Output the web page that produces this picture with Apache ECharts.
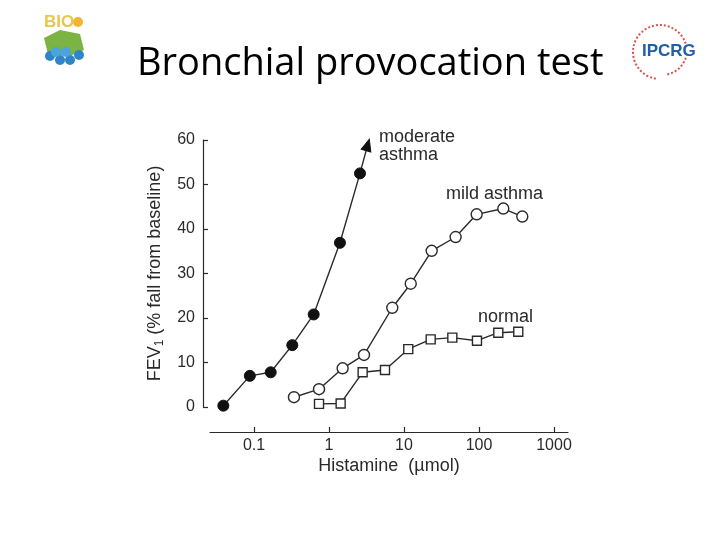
<!DOCTYPE html>
<html>
<head>
<meta charset="utf-8">
<style>html,body{margin:0;padding:0;background:#fff;}#c{width:720px;height:540px;}</style>
<script src="https://cdn.jsdelivr.net/npm/echarts@6/dist/echarts.min.js"></script>
</head>
<body>
<div id="c"></div>
<script>
// Histamine dose (µmol) and FEV1 % fall from baseline
const moderateX = [0.039, 0.088, 0.167, 0.324, 0.625, 1.40, 2.59, 3.28];
const moderateY = [0.3, 7.0, 7.8, 13.9, 20.8, 36.9, 52.5, 58.9];
const mildX = [0.341, 0.736, 1.52, 2.93, 6.98, 12.3, 23.4, 48.8, 93.1, 211, 378];
const mildY = [2.2, 4.0, 8.7, 11.7, 22.3, 27.7, 35.1, 38.2, 43.3, 44.6, 42.8];
const normalX = [0.736, 1.43, 2.81, 5.58, 11.4, 22.7, 44.1, 94.0, 181, 334];
const normalY = [0.7, 0.8, 7.8, 8.3, 13.0, 15.2, 15.6, 14.9, 16.7, 16.9];
const xTicks = [0.1, 1, 10, 100, 1000];
const yTicks = [0, 10, 20, 30, 40, 50, 60];

const pairs = (xs, ys) => xs.map((x, i) => [x, ys[i]]);
const ink = '#2a2a2a';
const font = 'Liberation Sans';

const chart = echarts.init(document.getElementById('c'));
chart.setOption({
  backgroundColor: '#ffffff',
  animation: false,
  grid: { left: 210, right: 152, top: 140, bottom: 133 },
  xAxis: {
    type: 'log',
    logBase: 10,
    min: 0.0259,
    max: 1538,
    offset: 25,
    name: 'Histamine  (\u00b5mol)',
    nameLocation: 'middle',
    nameGap: 25,
    nameTextStyle: { fontFamily: font, fontSize: 18, color: ink },
    axisLine: { onZero: false, lineStyle: { color: ink, width: 1.2 } },
    axisTick: { inside: true, length: 5, customValues: xTicks, lineStyle: { color: ink, width: 1.2 } },
    axisLabel: { customValues: xTicks, fontFamily: font, fontSize: 16, color: ink, margin: 6,
      formatter: v => String(v) },
    splitLine: { show: false }
  },
  yAxis: {
    type: 'value',
    min: yTicks[0],
    max: yTicks[yTicks.length - 1],
    interval: 10,
    offset: 7,
    name: '{a|FEV}{s|1}{a| (% fall from baseline)}',
    nameLocation: 'middle',
    nameRotate: 90,
    nameGap: 37,
    nameTextStyle: {
      rich: {
        a: { fontFamily: font, fontSize: 18, color: ink, lineHeight: 22 },
        s: { fontFamily: font, fontSize: 12, color: ink, lineHeight: 22, verticalAlign: 'bottom', padding: [10, 0, 0, 0] }
      }
    },
    axisLine: { show: true, onZero: false, lineStyle: { color: ink, width: 1.2 } },
    axisTick: { show: true, inside: true, length: 5, lineStyle: { color: ink, width: 1.2 } },
    axisLabel: { fontFamily: font, fontSize: 16, color: ink, margin: 8 },
    splitLine: { show: false }
  },
  series: [
    {
      name: 'moderate asthma', type: 'line', data: pairs(moderateX, moderateY),
      symbol: (v, p) => p.dataIndex === moderateX.length - 1 ? 'triangle' : 'circle',
      symbolSize: (v, p) => p.dataIndex === moderateX.length - 1 ? [10, 12] : 11,
      symbolRotate: (v, p) => p.dataIndex === moderateX.length - 1 ? -16 : 0,
      lineStyle: { color: ink, width: 1.4 },
      itemStyle: { color: '#111', borderColor: '#111', borderWidth: 1 },
      z: 3
    },
    {
      name: 'mild asthma', type: 'line', data: pairs(mildX, mildY),
      symbol: 'circle', symbolSize: 11,
      lineStyle: { color: ink, width: 1.4 },
      itemStyle: { color: '#fff', borderColor: ink, borderWidth: 1.4 }
    },
    {
      name: 'normal', type: 'line', data: pairs(normalX, normalY),
      symbol: 'rect', symbolSize: 9,
      lineStyle: { color: ink, width: 1.4 },
      itemStyle: { color: '#fff', borderColor: ink, borderWidth: 1.4 }
    }
  ],
  graphic: [
    { type: 'text', left: 137, top: 45, style: { text: 'Bronchial provocation test', font: '38px "Open Sans"', fill: '#000' } },
    { type: 'text', left: 379, top: 128, style: { text: 'moderate\nasthma', font: '18px "Liberation Sans"', lineHeight: 18, fill: ink } },
    { type: 'text', left: 446, top: 185, style: { text: 'mild asthma', font: '18px "Liberation Sans"', fill: ink } },
    { type: 'text', left: 478, top: 308, style: { text: 'normal', font: '18px "Liberation Sans"', fill: ink } },
    // left logo approximation
    { type: 'polygon', shape: { points: [[44,38],[60,30],[80,34],[84,50],[70,56],[48,54]] }, style: { fill: '#7cb342' } },
    { type: 'text', left: 44, top: 14, style: { text: 'BIO', font: 'bold 17px "Liberation Sans"', fill: '#e6c84a' } },
    { type: 'circle', shape: { cx: 78, cy: 22, r: 5 }, style: { fill: '#f2b531' } },
    { type: 'circle', shape: { cx: 50, cy: 56, r: 5 }, style: { fill: '#2e86c8' } },
    { type: 'circle', shape: { cx: 60, cy: 60, r: 5 }, style: { fill: '#2e86c8' } },
    { type: 'circle', shape: { cx: 70, cy: 60, r: 5 }, style: { fill: '#2e86c8' } },
    { type: 'circle', shape: { cx: 79, cy: 55, r: 5 }, style: { fill: '#2e86c8' } },
    { type: 'circle', shape: { cx: 56, cy: 52, r: 5 }, style: { fill: '#4aa3df' } },
    { type: 'circle', shape: { cx: 66, cy: 52, r: 5 }, style: { fill: '#4aa3df' } },
    // right logo approximation
    { type: 'arc', shape: { cx: 660, cy: 52, r: 27, startAngle: Math.PI * 0.55, endAngle: Math.PI * 1.9 }, style: { stroke: '#d9534f', lineWidth: 2, lineDash: [2, 2], fill: null } },
    { type: 'arc', shape: { cx: 662, cy: 50, r: 25, startAngle: Math.PI * 0.1, endAngle: Math.PI * 0.45 }, style: { stroke: '#d9534f', lineWidth: 2, lineDash: [2, 2], fill: null } },
    { type: 'text', left: 642, top: 43, style: { text: 'IPCRG', font: 'bold 17px "Liberation Sans"', fill: '#1f5ea8' } }
  ]
});
</script>
</body>
</html>
